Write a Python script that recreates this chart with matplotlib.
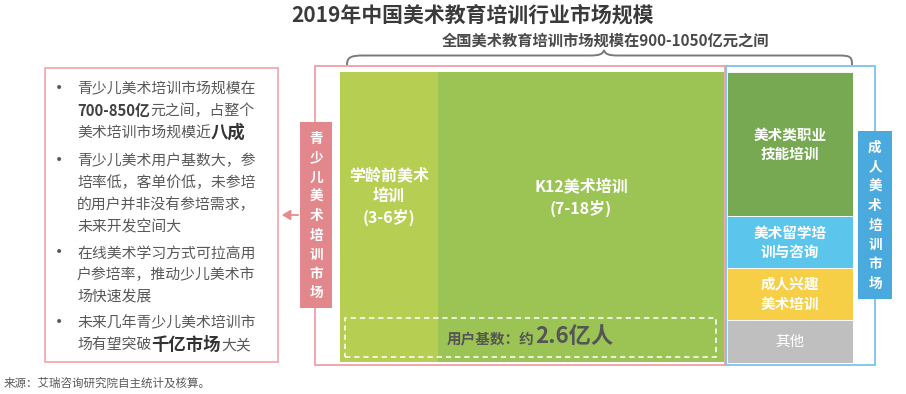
import matplotlib
matplotlib.use("Agg")
import matplotlib.pyplot as plt
from matplotlib.patches import Rectangle, PathPatch, FancyArrowPatch
from matplotlib.path import Path
import numpy as np

plt.rcParams['font.family'] = ['Noto Sans CJK SC', 'DejaVu Sans']

# ---------------- data ----------------
title = "2019年中国美术教育培训行业市场规模"
subtitle = "全国美术教育培训市场规模在900-1050亿元之间"
source = "来源：艾瑞咨询研究院自主统计及核算。"

youth_labels = ["学龄前美术\n培训\n(3-6岁)", "K12美术培训\n(7-18岁)"]
youth_shares = [0.255, 0.745]
youth_colors = ["#b6ce52", "#9bc455"]

adult_labels = ["美术类职业\n技能培训", "美术留学培\n训与咨询", "成人兴趣\n美术培训", "其他"]
adult_shares = [0.495, 0.18, 0.178, 0.147]
adult_colors = ["#76a951", "#5bc5ec", "#f6cf47", "#bfbfbf"]
adult_weights = ["bold", "bold", "bold", "normal"]

youth_market_label = "青少儿美术培训市场"
adult_market_label = "成人美术培训市场"
user_base_prefix = "用户基数：约"
user_base_value = "2.6亿人"

# bullet paragraphs: list of lines, each line list of (text, emphasis)
bullets = [
    [[("青少儿美术培训市场规模在", 0)],
     [("700-850亿", 1), ("元之间，占整个", 0)],
     [("美术培训市场规模近", 0), ("八成", 2)]],
    [[("青少儿美术用户基数大，参", 0)],
     [("培率低，客单价低，未参培", 0)],
     [("的用户并非没有参培需求，", 0)],
     [("未来开发空间大", 0)]],
    [[("在线美术学习方式可拉高用", 0)],
     [("户参培率，推动少儿美术市", 0)],
     [("场快速发展", 0)]],
    [[("未来几年青少儿美术培训市", 0)],
     [("场有望突破", 0), ("千亿市场", 2), ("大关", 0)]],
]

# ---------------- figure ----------------
W, H = 906, 394
fig = plt.figure(figsize=(W / 100, H / 100), dpi=100)
fig.patch.set_facecolor("white")
ax = fig.add_axes([0, 0, 1, 1])
ax.set_xlim(0, W)
ax.set_ylim(H, 0)
ax.axis("off")
renderer = fig.canvas.get_renderer()

def fig_rect(x0, y0, x1, y1):
    return [x0 / W, (H - y1) / H, (x1 - x0) / W, (y1 - y0) / H]

# title & subtitle
ax.text(473, 15, title, ha="center", va="center", fontsize=15, fontweight="bold", color="#3a3a3a")
ax.text(605, 41, subtitle, ha="center", va="center", fontsize=11, fontweight="bold", color="#4a4a4a")

# brace
bv = [(347, 65), (347, 57), (351, 55.5), (364, 55.5), (590, 55.5), (600, 55.5), (603, 54), (604, 50),
      (605, 54), (608, 55.5), (618, 55.5), (838, 55.5), (851, 55.5), (852, 57), (852, 65)]
bc = [Path.MOVETO, Path.CURVE4, Path.CURVE4, Path.CURVE4, Path.LINETO, Path.CURVE4, Path.CURVE4, Path.CURVE4,
      Path.CURVE4, Path.CURVE4, Path.CURVE4, Path.LINETO, Path.CURVE4, Path.CURVE4, Path.CURVE4]
ax.add_patch(PathPatch(Path(bv, bc), facecolor="none", edgecolor="#7a7a7a", lw=1.4))

# outer boxes
ax.add_patch(Rectangle((315, 66), 410, 299, facecolor="none", edgecolor="#f09ea2", lw=1.3))
ax.add_patch(Rectangle((726, 66), 149, 299, facecolor="none", edgecolor="#7cc3ec", lw=1.3))
ax.add_patch(Rectangle((45, 68), 233, 294, facecolor="none", edgecolor="#f3a3a5", lw=1.2))

# arrow from youth label to text box
ax.add_patch(FancyArrowPatch((301, 215), (279, 215), arrowstyle="-|>,head_length=5,head_width=3",
                             color="#e88a8e", lw=1.3, mutation_scale=1))

# youth block axes
ay = fig.add_axes(fig_rect(340, 72, 724, 362))
ay.set_xlim(0, 1)
ay.set_ylim(0, 1)
ay.axis("off")
lefts = np.concatenate([[0], np.cumsum(youth_shares)[:-1]])
ay.bar(lefts, [1] * len(youth_shares), width=youth_shares, align="edge", color=youth_colors, linewidth=0)
label_y = [0.57, 0.565]
for l, s, lab, yy in zip(lefts, youth_shares, youth_labels, label_y):
    ay.text(l + s / 2, yy, lab, ha="center", va="center", fontsize=11.5, fontweight="bold",
            color="white", linespacing=1.35)
ay.add_patch(Rectangle((0.013, 0.017), 0.966, 0.135, facecolor="none", edgecolor="white", lw=1.1,
                       linestyle=(0, (3.5, 2.5))))

# user base text (centered rich text)
ubx, uby = 530, 343
t1 = ax.text(0, uby, user_base_prefix, fontsize=10.5, fontweight="bold", color="#555555", va="baseline")
t2 = ax.text(0, uby, user_base_value, fontsize=16, fontweight="bold", color="#555555", va="baseline")
w1 = t1.get_window_extent(renderer).width
w2 = t2.get_window_extent(renderer).width
x0 = ubx - (w1 + w2) / 2
t1.remove()
t2.remove()
ay.text(x0, uby, user_base_prefix, transform=ax.transData, fontsize=10.5,
        fontweight="bold", color="#555555", va="baseline")
ay.text(x0 + w1, uby, user_base_value, transform=ax.transData, fontsize=16,
        fontweight="bold", color="#555555", va="baseline")

# adult block axes
aa = fig.add_axes(fig_rect(727, 72, 853, 363))
aa.set_xlim(0, 1)
aa.set_ylim(1, 0)
aa.axis("off")
tops = np.concatenate([[0], np.cumsum(adult_shares)[:-1]])
aa.bar([0] * len(adult_shares), adult_shares, bottom=tops, width=1, align="edge",
       color=adult_colors, edgecolor="white", linewidth=0.6)
for tp, s, lab, wgt in zip(tops, adult_shares, adult_labels, adult_weights):
    aa.text(0.5, tp + s / 2, lab, ha="center", va="center", fontsize=10.5, fontweight=wgt,
            color="white", linespacing=1.25)

# vertical labels
lab_ax = fig.add_axes([0, 0, 1, 1])
lab_ax.set_xlim(0, W)
lab_ax.set_ylim(H, 0)
lab_ax.axis("off")
lab_ax.add_patch(Rectangle((300, 122), 32, 186, facecolor="#e2878b", edgecolor="none"))
for i, ch in enumerate(youth_market_label):
    lab_ax.text(316, 139 + i * 19.3, ch, ha="center", va="center", fontsize=9.8, fontweight="bold", color="white")
lab_ax.add_patch(Rectangle((858, 131), 34, 168, facecolor="#4aa9dd", edgecolor="none"))
for i, ch in enumerate(adult_market_label):
    lab_ax.text(875, 148 + i * 19.4, ch, ha="center", va="center", fontsize=9.8, fontweight="bold", color="white")

# bullets text
line_ys = [[88, 110, 132], [160, 182, 204, 226], [252, 274, 296], [322, 344]]
sizes = {0: 10.7, 1: 10.7, 2: 12.5}
weights = {0: "normal", 1: "bold", 2: "bold"}
colors = {0: "#595959", 1: "#404040", 2: "#333333"}
for para, ys in zip(bullets, line_ys):
    ax.text(59, ys[0], "•", ha="center", va="center", fontsize=10, color="#595959",
            family=["DejaVu Sans"])
    for line, yc in zip(para, ys):
        x = 77
        for txt, em in line:
            t = ax.text(x, yc + 5.5, txt, fontsize=sizes[em], fontweight=weights[em], color=colors[em],
                        va="baseline", ha="left")
            x += t.get_window_extent(renderer).width

# source
ax.text(4, 383, source, ha="left", va="center", fontsize=8.3, color="#595959")

fig.savefig("out.png", dpi=100, facecolor="white")
